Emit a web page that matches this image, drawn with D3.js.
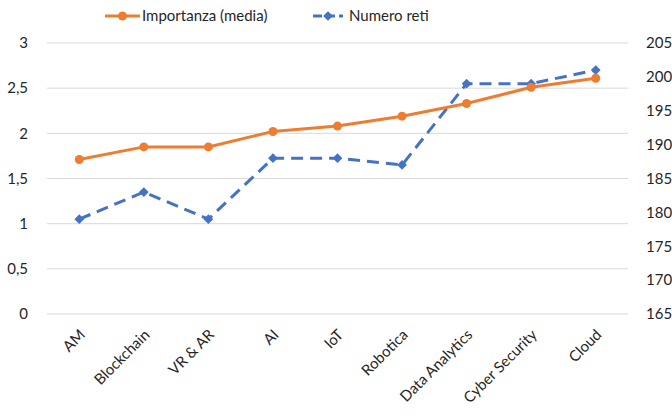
<!DOCTYPE html>
<html>
<head>
<meta charset="utf-8">
<script src="https://cdn.jsdelivr.net/npm/d3@7/dist/d3.min.js"></script>
<style>
  body { margin: 0; background: #fff; }
  svg text { font-family: Lato, "Open Sans", sans-serif; fill: #262626; }
</style>
</head>
<body>
<div id="chart"></div>
<script>
const categories = ['AM', 'Blockchain', 'VR & AR', 'AI', 'IoT', 'Robotica', 'Data Analytics', 'Cyber Security', 'Cloud'];
const importanza = [1.71, 1.85, 1.85, 2.02, 2.08, 2.19, 2.33, 2.51, 2.61];
const numeroReti = [179, 183, 179, 188, 188, 187, 199, 199, 201];
const leftTicks = [0, 0.5, 1, 1.5, 2, 2.5, 3];
const rightTicks = [165, 170, 175, 180, 185, 190, 195, 200, 205];

const width = 672, height = 416;
const margin = { top: 43, right: 44, bottom: 102, left: 47 };
const innerW = width - margin.left - margin.right;
const innerH = height - margin.top - margin.bottom;
const orange = '#ED7D31', blue = '#4472C4';

const svg = d3.select('#chart').append('svg')
  .attr('width', width).attr('height', height);
const g = svg.append('g').attr('transform', `translate(${margin.left},${margin.top})`);

const x = d3.scaleBand().domain(categories).range([0, innerW]);
const yL = d3.scaleLinear().domain([0, 3]).range([innerH, 0]);
const yR = d3.scaleLinear().domain([165, 205]).range([innerH, 0]);
const cx = d => x(d) + x.bandwidth() / 2;

// gridlines
g.append('g').selectAll('line').data(leftTicks).join('line')
  .attr('x1', 0).attr('x2', innerW)
  .attr('y1', d => yL(d)).attr('y2', d => yL(d))
  .attr('stroke', '#d9d9d9').attr('stroke-width', 1);

// left axis labels
const fmt = v => String(v).replace('.', ',');
g.append('g').selectAll('text').data(leftTicks).join('text')
  .attr('x', -19).attr('y', d => yL(d)).attr('dy', '0.35em')
  .attr('text-anchor', 'end').attr('font-size', 15)
  .text(fmt);

// right axis labels
g.append('g').selectAll('text').data(rightTicks).join('text')
  .attr('x', innerW + 18).attr('y', d => yR(d)).attr('dy', '0.35em')
  .attr('text-anchor', 'start').attr('font-size', 15)
  .text(d => d);

// x labels
g.append('g').selectAll('text').data(categories).join('text')
  .attr('transform', d => `translate(${cx(d) + 3},${innerH + 18}) rotate(-45)`)
  .attr('text-anchor', 'end').attr('dy', '0.35em').attr('font-size', 15)
  .text(d => d);

// blue dashed series (right axis)
const lineR = d3.line().x((d, i) => cx(categories[i])).y(d => yR(d));
g.append('path').datum(numeroReti)
  .attr('d', lineR).attr('fill', 'none')
  .attr('stroke', blue).attr('stroke-width', 3)
  .attr('stroke-dasharray', '12,7');
const diamond = d3.symbol().type(d3.symbolDiamond2).size(60);
g.append('g').selectAll('path').data(numeroReti).join('path')
  .attr('transform', (d, i) => `translate(${cx(categories[i])},${yR(d)})`)
  .attr('d', diamond).attr('fill', blue);

// orange series (left axis)
const lineL = d3.line().x((d, i) => cx(categories[i])).y(d => yL(d));
g.append('path').datum(importanza)
  .attr('d', lineL).attr('fill', 'none')
  .attr('stroke', orange).attr('stroke-width', 3);
g.append('g').selectAll('circle').data(importanza).join('circle')
  .attr('cx', (d, i) => cx(categories[i])).attr('cy', d => yL(d))
  .attr('r', 4.5).attr('fill', orange);

// legend
const leg = svg.append('g').attr('transform', 'translate(0,16)');
leg.append('line').attr('x1', 105).attr('x2', 140).attr('y1', 0).attr('y2', 0)
  .attr('stroke', orange).attr('stroke-width', 3);
leg.append('circle').attr('cx', 122.5).attr('cy', 0).attr('r', 4.5).attr('fill', orange);
leg.append('text').attr('x', 142).attr('y', 0).attr('dy', '0.35em').attr('font-size', 15)
  .text('Importanza (media)');
leg.append('line').attr('x1', 313).attr('x2', 343).attr('y1', 0).attr('y2', 0)
  .attr('stroke', blue).attr('stroke-width', 3).attr('stroke-dasharray', '9,4');
leg.append('path').attr('transform', 'translate(328,0)').attr('d', diamond).attr('fill', blue);
leg.append('text').attr('x', 349).attr('y', 0).attr('dy', '0.35em').attr('font-size', 15)
  .text('Numero reti');
</script>
</body>
</html>
